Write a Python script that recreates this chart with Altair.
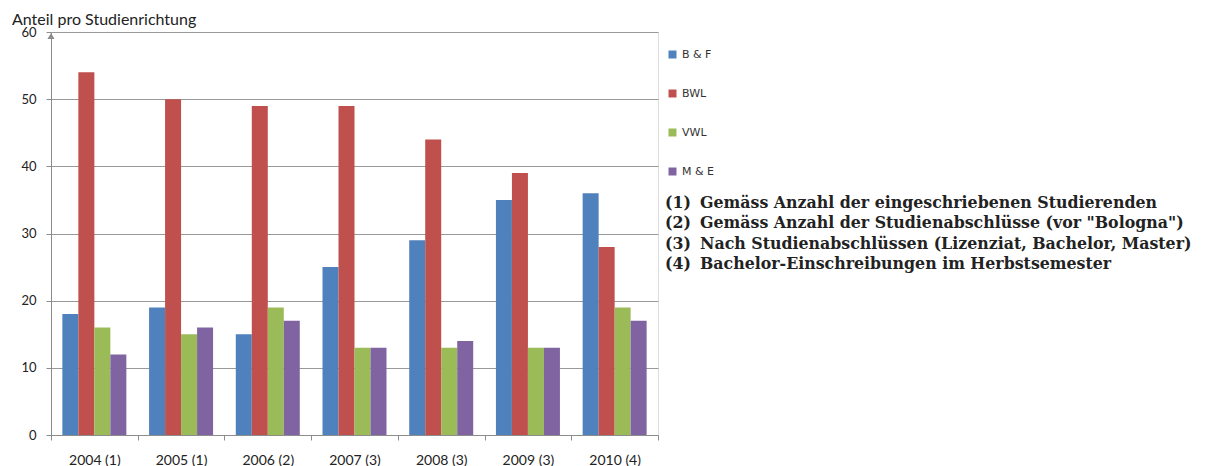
import altair as alt
import pandas as pd

years = ["2004 (1)", "2005 (1)", "2006 (2)", "2007 (3)", "2008 (3)", "2009 (3)", "2010 (4)"]
series = ["B & F", "BWL", "VWL", "M & E"]
bf = [18, 19, 15, 25, 29, 35, 36]
bwl = [54, 50, 49, 49, 44, 39, 28]
vwl = [16, 15, 19, 13, 13, 13, 19]
me = [12, 16, 17, 13, 14, 13, 17]
colors = ["#4F81BD", "#C0504D", "#9BBB59", "#8064A2"]
y_ticks = [0, 10, 20, 30, 40, 50, 60]
notes_num = ["(1)", "(2)", "(3)", "(4)"]
notes_txt = [
    "Gemäss Anzahl der eingeschriebenen Studierenden",
    "Gemäss Anzahl der Studienabschlüsse (vor \"Bologna\")",
    "Nach Studienabschlüssen (Lizenziat, Bachelor, Master)",
    "Bachelor-Einschreibungen im Herbstsemester",
]

rows = []
for s, vals in zip(series, [bf, bwl, vwl, me]):
    for yr, v in zip(years, vals):
        rows.append({"Jahr": yr, "Studienrichtung": s, "Anteil": v})
df = pd.DataFrame(rows)

W, H = 607, 403
GRAY = "#8c8c8c"
FONT = "Lato"

bars = alt.Chart(df).mark_bar().encode(
    x=alt.X("Jahr:N", sort=years,
            scale=alt.Scale(paddingInner=0, paddingOuter=0),
            axis=alt.Axis(title=None, tickBand="extent", labelAngle=0, labelFont=FONT,
                          labelFontSize=14, labelColor="#222", domainColor=GRAY,
                          tickColor=GRAY, tickSize=5, labelPadding=13)),
    xOffset=alt.XOffset("Studienrichtung:N", sort=series,
                        scale=alt.Scale(paddingInner=0, paddingOuter=0.71)),
    y=alt.Y("Anteil:Q", scale=alt.Scale(domain=[0, 60], nice=False),
            axis=alt.Axis(title=None, values=y_ticks, labelFont=FONT, labelFontSize=13,
                          labelColor="#222", domainColor=GRAY, tickColor=GRAY, tickSize=5,
                          gridColor="#999", gridOpacity=1, labelPadding=10)),
    color=alt.Color("Studienrichtung:N", sort=series,
                    scale=alt.Scale(domain=series, range=colors),
                    legend=alt.Legend(title=None, orient="none", legendX=616, legendY=17,
                                      symbolType="square", symbolSize=64, symbolStrokeWidth=0,
                                      labelFont="DejaVu Sans", labelFontSize=11,
                                      labelColor="#333", labelOffset=4, rowPadding=27,
                                      padding=0)),
)

arrow = alt.Chart(pd.DataFrame({"v": [60]})).mark_point(
    shape="triangle-up", filled=True, size=50, color=GRAY, yOffset=4, opacity=1
).encode(x=alt.value(0), y=alt.Y("v:Q"))

notes_a = alt.Chart(pd.DataFrame({"t": ["\n".join(notes_num)]})).mark_text(
    align="left", baseline="top", font="DejaVu Serif", fontWeight="bold", fontSize=15.8,
    lineBreak="\n", lineHeight=20.3, color="#222"
).encode(text="t:N", x=alt.value(614), y=alt.value(164))

notes_b = alt.Chart(pd.DataFrame({"t": ["\n".join(notes_txt)]})).mark_text(
    align="left", baseline="top", font="DejaVu Serif", fontWeight="bold", fontSize=15.8,
    lineBreak="\n", lineHeight=20.3, color="#222"
).encode(text="t:N", x=alt.value(649), y=alt.value(164))

chart = alt.layer(bars, arrow, notes_a, notes_b).properties(
    width=W, height=H,
    title=alt.TitleParams("Anteil pro Studienrichtung", anchor="start", frame="group",
                          font=FONT, fontSize=16, fontWeight="normal", color="#222",
                          baseline="alphabetic", dx=-39, dy=17, offset=2),
    padding={"left": 43, "top": 24, "right": 544, "bottom": 38},
    autosize=alt.AutoSizeParams(type="none"),
).configure_view(stroke=None).configure(background="white")

chart.save("out.html", embed_options={"renderer": "svg", "actions": False})
